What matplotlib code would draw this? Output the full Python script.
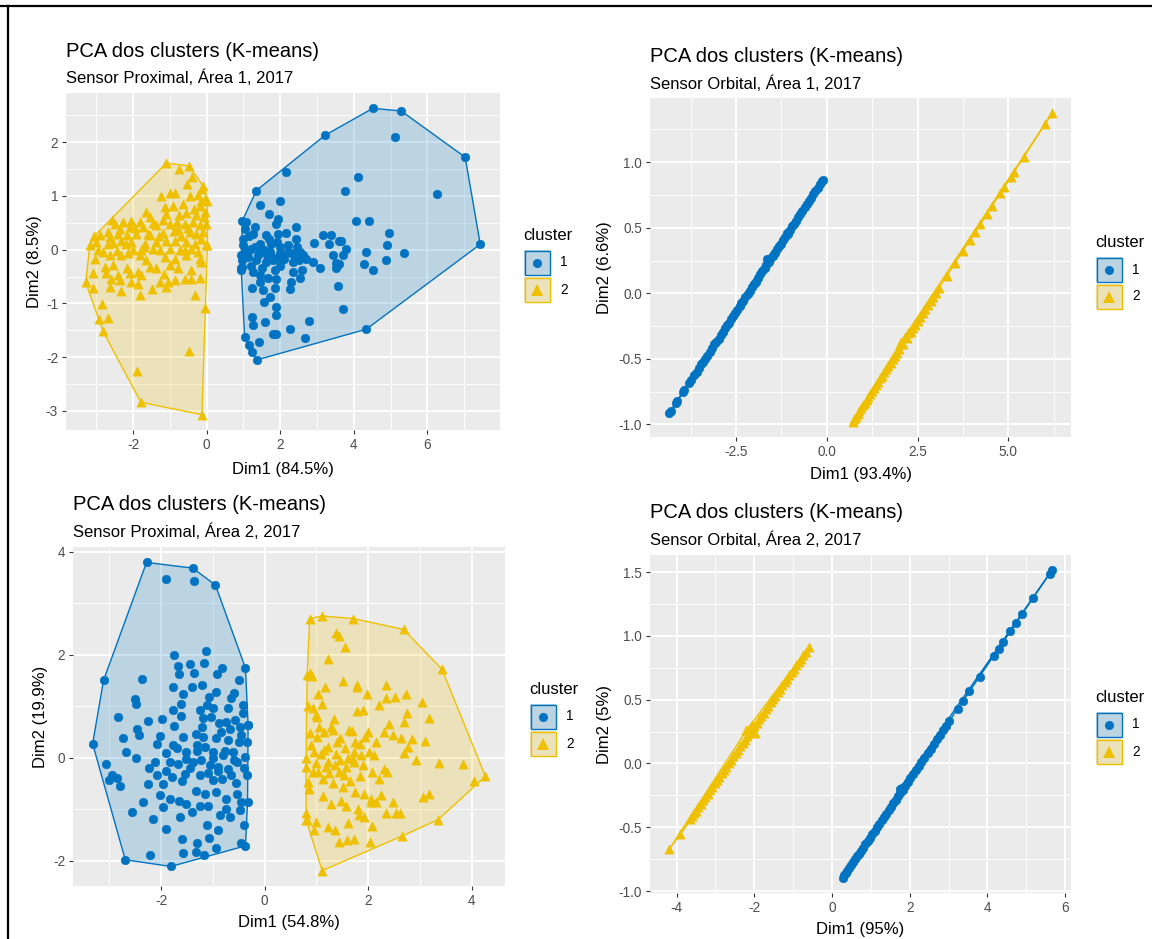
import matplotlib
matplotlib.use("Agg")
import matplotlib.pyplot as plt
from matplotlib.patches import Polygon, Rectangle
from matplotlib.lines import Line2D

plt.rcParams['font.family'] = ['Liberation Sans', 'DejaVu Sans']
plt.rcParams['axes.unicode_minus'] = False

# ---------------- data ----------------
titles = ["PCA dos clusters (K-means)"] * 4
subtitles = ["Sensor Proximal, Área 1, 2017", "Sensor Orbital, Área 1, 2017",
             "Sensor Proximal, Área 2, 2017", "Sensor Orbital, Área 2, 2017"]
xlabels = ["Dim1 (84.5%)", "Dim1 (93.4%)", "Dim1 (54.8%)", "Dim1 (95%)"]
ylabels = ["Dim2 (8.5%)", "Dim2 (6.6%)", "Dim2 (19.9%)", "Dim2 (5%)"]
cluster_labels = ["1", "2"]

p1_c1 = [(4.52, 2.63), (5.29, 2.58), (7.03, 1.72), (7.44, 0.10), (4.34, -1.48), (1.37, -2.05), (1.23, -1.91),
         (1.15, -1.78), (1.03, -1.62), (0.94, -0.38), (0.97, 0.54), (1.35, 1.10), (2.15, 1.45), (3.22, 2.13),
         (5.11, 2.10), (4.11, 1.35), (3.75, 1.09), (6.27, 1.03), (1.98, 0.91), (1.44, 0.84), (1.69, 0.67),
         (1.94, 0.57), (1.89, 0.48), (4.07, 0.53), (4.41, 0.53), (1.30, 0.42), (2.42, 0.42), (1.08, 0.51),
         (1.03, 0.39), (1.62, 0.28), (1.94, 0.30), (2.15, 0.31), (4.95, 0.31), (3.16, 0.27), (3.39, 0.27),
         (3.60, 0.17), (3.66, 0.17), (2.44, 0.20), (1.91, 0.14), (1.44, 0.11), (2.21, 0.08), (2.93, 0.12),
         (3.32, 0.11), (4.91, 0.08), (0.99, 0.08), (1.21, 0.02), (1.49, -0.04), (1.73, -0.04), (1.98, -0.07),
         (2.30, -0.07), (2.62, -0.10), (3.80, 0.02), (4.32, -0.04), (5.36, -0.07), (3.43, -0.10), (3.70, -0.10),
         (4.88, -0.19), (1.12, -0.14), (1.35, -0.20), (1.60, -0.23), (1.80, -0.20), (2.09, -0.17), (2.35, -0.22),
         (2.71, -0.17), (2.89, -0.23), (3.07, -0.35), (3.52, -0.24), (3.61, -0.26), (4.29, -0.26), (4.52, -0.38),
         (3.51, -0.35), (0.97, -0.32), (1.26, -0.41), (1.44, -0.48), (1.67, -0.52), (1.85, -0.38), (2.35, -0.41),
         (2.60, -0.38), (1.44, -0.60), (1.89, -0.54), (2.30, -0.60), (2.53, -0.52), (1.24, -0.72), (1.53, -0.75),
         (1.85, -0.72), (2.26, -0.74), (1.71, -0.88), (1.57, -0.97), (1.88, -1.07), (3.70, -1.11), (3.58, -0.67),
         (1.24, -1.25), (1.89, -1.22), (1.58, -1.35), (1.26, -1.40), (2.26, -1.48), (2.77, -1.33), (1.80, -1.56),
         (1.89, -1.56), (2.66, -1.65), (1.41, -1.71), (0.94, -0.10), (0.94, -0.35),
         (1.00, 0.20), (1.10, -0.05), (1.15, 0.25), (1.30, 0.05), (1.40, -0.10), (1.55, 0.00), (1.65, -0.10),
         (1.75, 0.10), (1.85, -0.15), (2.00, 0.05), (2.05, -0.20), (2.20, -0.05), (2.40, -0.12), (2.50, -0.20),
         (1.20, -0.30), (1.50, -0.35), (2.00, -0.30), (2.45, 0.05), (2.55, -0.05), (1.05, 0.00), (0.96, -0.20),
         (1.70, 0.20), (1.25, 0.30)]

p1_c2 = [(-1.10, 1.61), (-0.48, 1.56), (-0.10, 1.19), (0.02, 0.91), (0.02, 0.08), (-0.04, -1.09), (-0.13, -3.07),
         (-1.79, -2.84), (-2.82, -1.52), (-3.29, -0.61), (-3.18, 0.08), (-3.06, 0.25), (-2.57, 0.56),
         (-0.75, 1.50), (-0.53, 1.23), (-0.12, 1.13), (-1.23, 0.99), (-1.01, 1.06), (-0.46, 0.99), (-0.24, 1.01),
         (-0.91, 0.82), (-1.14, 0.79), (-0.64, 0.85), (-0.19, 0.82), (-1.64, 0.70), (-1.10, 0.67), (-0.55, 0.69),
         (-0.28, 0.64), (-0.07, 0.60), (-1.55, 0.60), (-2.05, 0.54), (-1.82, 0.51), (-2.27, 0.51), (-2.50, 0.48),
         (-2.68, 0.33), (-2.36, 0.39), (-2.09, 0.42), (-1.73, 0.42), (-1.37, 0.45), (-1.01, 0.48), (-0.82, 0.51),
         (-0.60, 0.48), (-0.37, 0.51), (-0.19, 0.45), (-0.01, 0.48), (-2.91, 0.27), (-2.64, 0.23), (-2.18, 0.27),
         (-1.91, 0.30), (-1.55, 0.27), (-1.19, 0.31), (-0.78, 0.39), (-0.46, 0.33), (-0.10, 0.33), (-3.00, 0.14),
         (-2.68, 0.11), (-2.32, 0.17), (-2.05, 0.14), (-1.68, 0.11), (-1.37, 0.14), (-1.10, 0.17), (-0.87, 0.17),
         (-0.55, 0.14), (-0.33, 0.11), (-0.01, 0.08), (-2.82, -0.04), (-2.45, -0.02), (-2.14, -0.07), (-1.78, -0.01),
         (-1.46, 0.02), (-1.28, -0.01), (-1.01, 0.01), (-0.73, -0.01), (-0.42, 0.02), (-2.95, -0.01), (-3.04, -0.17),
         (-2.64, -0.10), (-2.32, -0.10), (-1.82, -0.10), (-1.64, -0.20), (-1.37, -0.35), (-1.14, -0.14), (-0.87, -0.17),
         (-0.55, -0.10), (-0.19, -0.17), (-0.16, -0.23), (-2.77, -0.32), (-2.55, -0.29), (-2.18, -0.35), (-1.87, -0.41),
         (-1.55, -0.32), (-1.01, -0.29), (-0.78, -0.35), (-0.42, -0.38), (-3.09, -0.44), (-2.73, -0.44), (-2.41, -0.48),
         (-2.09, -0.44), (-1.78, -0.48), (-1.28, -0.60), (-1.05, -0.60), (-0.87, -0.57), (-0.60, -0.55), (-0.42, -0.54),
         (-0.19, -0.52), (-2.36, -0.57), (-2.05, -0.60), (-1.87, -0.63), (-3.09, -0.72), (-2.64, -0.69), (-2.32, -0.77),
         (-1.82, -0.85), (-1.50, -0.73), (-1.10, -0.69), (-0.33, -0.85), (-2.86, -1.02), (-2.68, -1.28), (-2.93, -1.29),
         (-0.48, -1.88), (-1.89, -2.25),
         (-2.40, 0.30), (-2.20, 0.10), (-1.95, 0.40), (-1.60, 0.30), (-1.45, 0.50), (-1.20, 0.55), (-0.90, 0.35),
         (-0.70, 0.25), (-0.50, 0.40), (-0.30, 0.30), (-0.15, 0.20), (-0.05, 0.70), (-0.35, 0.75), (-0.75, 0.65),
         (-1.30, 0.25), (-1.70, 0.05), (-2.00, 0.00), (-2.55, 0.12), (-0.60, 0.00), (-0.25, -0.05), (-1.15, -0.45),
         (-2.60, -0.55), (-0.05, 0.95), (-0.15, 0.90), (-0.85, 1.05), (-0.40, 1.35)]

p2_c1 = [(-4.34, -0.915), (-4.30, -0.90), (-4.15, -0.835), (-4.12, -0.82), (-3.95, -0.75), (-3.92, -0.74),
         (-3.78, -0.68), (-3.74, -0.66), (-3.65, -0.625), (-3.58, -0.60), (-3.52, -0.57), (-3.45, -0.54),
         (-3.40, -0.52), (-3.35, -0.50), (-3.30, -0.475), (-3.22, -0.445), (-3.15, -0.415), (-3.10, -0.39),
         (-3.05, -0.37), (-2.98, -0.345), (-2.92, -0.315), (-2.87, -0.295), (-2.80, -0.265), (-2.74, -0.245),
         (-2.70, -0.225), (-2.63, -0.195), (-2.58, -0.17), (-2.52, -0.15), (-2.47, -0.13), (-2.40, -0.10),
         (-2.35, -0.075), (-2.30, -0.055), (-2.24, -0.03), (-2.18, -0.005), (-2.12, 0.02), (-2.06, 0.045),
         (-2.00, 0.07), (-1.95, 0.09), (-1.88, 0.12), (-1.83, 0.145), (-1.77, 0.17), (-1.71, 0.19),
         (-1.66, 0.215), (-1.65, 0.264), (-1.60, 0.24), (-1.55, 0.26), (-1.49, 0.285), (-1.43, 0.31),
         (-1.37, 0.335), (-1.31, 0.36), (-1.26, 0.38), (-1.20, 0.41), (-1.14, 0.43), (-1.10, 0.46),
         (-1.08, 0.455), (-1.02, 0.485), (-0.96, 0.51), (-0.91, 0.53), (-0.85, 0.555), (-0.79, 0.58),
         (-0.73, 0.605), (-0.67, 0.63), (-0.61, 0.655), (-0.55, 0.68), (-0.49, 0.705), (-0.43, 0.73),
         (-0.37, 0.755), (-0.31, 0.78), (-0.25, 0.805), (-0.19, 0.83), (-0.14, 0.855), (-0.11, 0.866)]

p2_c2 = [(0.71, -0.978), (0.75, -0.96), (0.80, -0.94), (0.85, -0.918), (0.90, -0.897), (0.95, -0.875),
         (1.00, -0.854), (1.05, -0.833), (1.10, -0.811), (1.15, -0.79), (1.20, -0.768), (1.26, -0.743),
         (1.31, -0.721), (1.37, -0.696), (1.42, -0.674), (1.48, -0.649), (1.53, -0.627), (1.59, -0.602),
         (1.64, -0.58), (1.70, -0.554), (1.76, -0.529), (1.82, -0.503), (1.88, -0.477), (1.94, -0.452),
         (2.00, -0.426), (2.02, -0.39), (2.05, -0.37), (2.10, -0.383), (2.15, -0.33), (2.20, -0.34),
         (2.25, -0.30), (2.31, -0.293), (2.37, -0.268), (2.43, -0.242), (2.50, -0.212), (2.57, -0.182),
         (2.64, -0.152), (2.71, -0.122), (2.78, -0.092), (2.86, -0.058), (2.93, -0.028), (3.00, 0.002),
         (3.09, 0.041), (3.31, 0.135), (3.54, 0.233), (3.75, 0.323), (3.95, 0.409), (4.09, 0.469),
         (4.23, 0.528), (4.41, 0.605), (4.55, 0.665), (4.78, 0.764), (4.89, 0.811), (5.07, 0.888),
         (5.15, 0.922), (5.42, 1.038), (6.02, 1.295), (6.20, 1.372)]

p3_c1 = [(-2.28, 3.79), (-1.39, 3.68), (-0.95, 3.35), (-0.37, 1.74), (-0.32, 0.63), (-0.33, -0.86), (-0.37, -1.71),
         (-0.45, -1.66), (-1.81, -2.11), (-2.69, -1.98), (-3.32, 0.27), (-3.11, 1.50),
         (-1.91, 3.46), (-1.37, 3.43), (-1.74, 2.00), (-1.14, 2.07), (-1.67, 1.78), (-1.44, 1.81), (-1.17, 1.83),
         (-0.83, 1.75), (-1.65, 1.63), (-1.37, 1.65), (-0.92, 1.63), (-2.37, 1.52), (-0.49, 1.50), (-1.76, 1.37),
         (-1.40, 1.37), (-1.21, 1.41), (-1.57, 1.23), (-0.93, 1.28), (-0.42, 1.02), (-2.51, 1.13), (-2.48, 1.05),
         (-1.62, 1.05), (-1.07, 1.18), (-0.64, 1.15), (-1.25, 0.92), (-1.12, 1.02), (-0.99, 0.97), (-0.71, 0.97),
         (-2.83, 0.80), (-2.25, 0.72), (-1.99, 0.75), (-1.76, 0.93), (-1.62, 0.81), (-1.74, 0.62), (-1.19, 0.77),
         (-1.03, 0.79), (-0.88, 0.67), (-0.74, 0.69), (-0.58, 0.73), (-0.42, 0.86), (-2.47, 0.56), (-2.42, 0.45),
         (-2.74, 0.39), (-2.02, 0.42), (-1.57, 0.40), (-1.33, 0.47), (-1.19, 0.40), (-0.93, 0.38), (-0.67, 0.56),
         (-0.48, 0.60), (-0.32, 0.64), (-2.68, 0.12), (-2.48, 0.00), (-2.08, 0.27), (-1.90, 0.10), (-1.76, 0.24),
         (-1.70, 0.18), (-1.51, 0.11), (-1.31, 0.14), (-1.15, 0.21), (-0.99, 0.11), (-0.77, 0.14), (-0.61, 0.11),
         (-0.38, 0.01), (-3.06, -0.13), (-2.23, -0.20), (-2.12, -0.08), (-1.83, -0.08), (-1.67, -0.12), (-1.51, -0.02),
         (-1.38, -0.08), (-1.22, -0.05), (-1.06, -0.15), (-0.90, -0.18), (-0.71, -0.21), (-0.54, -0.08), (-2.95, -0.34),
         (-3.01, -0.44), (-2.85, -0.39), (-2.80, -0.54), (-2.26, -0.51), (-2.08, -0.34), (-1.96, -0.51), (-1.79, -0.38),
         (-1.54, -0.31), (-1.25, -0.34), (-0.99, -0.44), (-0.83, -0.41), (-0.64, -0.34), (-0.35, -0.34), (-2.02, -0.73),
         (-1.83, -0.80), (-1.65, -0.84), (-1.51, -0.89), (-1.33, -0.64), (-1.15, -0.70), (-0.93, -0.67), (-0.74, -0.80),
         (-0.54, -0.70), (-0.45, -0.86), (-2.34, -0.85), (-2.56, -1.06), (-2.15, -1.19), (-1.97, -0.96), (-1.63, -1.15),
         (-1.41, -1.06), (-1.25, -0.93), (-1.09, -0.93), (-0.87, -1.11), (-0.66, -1.15), (-0.48, -1.02), (-1.91, -1.38),
         (-1.60, -1.58), (-1.31, -1.66), (-1.12, -1.30), (-0.90, -1.41), (-1.58, -1.85), (-1.17, -1.89), (-0.94, -1.76),
         (-2.21, -1.89), (-1.33, -1.82), (-1.07, -1.56),
         (-1.00, 0.00), (-0.80, 0.05), (-0.60, -0.05), (-0.50, 0.30), (-0.45, 0.45), (-0.70, 0.35), (-0.90, -0.25),
         (-1.10, -0.30), (-1.30, 0.25), (-1.45, -0.20), (-0.55, -0.50), (-0.40, -0.20), (-1.20, 0.60), (-0.35, 0.30),
         (-0.85, 0.50), (-1.60, -0.45), (-1.90, -0.25), (-0.60, 1.25), (-0.75, -1.00), (-0.40, -1.30)]

p3_c2 = [(0.87, 2.70), (1.11, 2.75), (1.71, 2.70), (2.68, 2.49), (3.42, 1.72), (4.26, -0.36), (3.35, -1.20),
         (2.65, -1.52), (1.11, -2.19), (0.80, -1.21), (0.82, 1.60),
         (1.37, 2.42), (1.43, 2.36), (1.55, 2.15), (1.22, 1.91), (0.88, 1.65), (0.91, 1.59), (1.52, 1.49),
         (1.79, 1.42), (1.78, 1.38), (2.34, 1.42), (1.16, 1.37), (1.97, 1.24), (2.72, 1.23), (1.03, 1.24),
         (2.35, 1.15), (2.52, 1.18), (2.20, 1.02), (1.11, 1.04), (0.83, 1.00), (0.94, 0.97), (1.90, 0.92),
         (1.78, 0.90), (2.75, 0.87), (3.04, 1.08), (3.17, 0.77), (0.99, 0.82), (1.01, 0.79), (1.33, 0.76),
         (1.29, 0.60), (1.62, 0.54), (1.68, 0.52), (2.40, 0.65), (2.69, 0.69), (2.31, 0.50), (2.47, 0.45),
         (0.88, 0.48), (1.01, 0.40), (1.15, 0.50), (1.31, 0.53), (1.46, 0.39), (1.84, 0.26), (1.94, 0.40),
         (2.15, 0.30), (2.63, 0.38), (2.85, 0.37), (3.10, 0.32), (2.76, 0.21), (0.90, 0.24), (0.96, 0.11),
         (1.09, 0.08), (1.22, 0.21), (1.38, 0.08), (1.55, 0.18), (1.73, 0.11), (1.70, -0.02), (1.86, 0.05),
         (2.02, 0.11), (2.12, 0.06), (2.68, 0.10), (2.93, -0.04), (3.37, -0.10), (3.83, -0.12), (4.04, -0.45),
         (0.80, -0.01), (0.80, -0.18), (0.93, -0.28), (1.03, -0.27), (1.19, -0.18), (1.22, -0.08), (1.35, -0.15),
         (1.44, -0.28), (1.57, -0.18), (1.72, -0.08), (1.89, -0.15), (2.08, -0.28), (2.31, -0.21), (2.37, -0.28),
         (2.21, -0.41), (0.83, -0.47), (1.13, -0.41), (1.31, -0.49), (1.51, -0.57), (1.54, -0.34), (1.75, -0.67),
         (1.92, -0.70), (2.05, -0.80), (2.24, -0.73), (2.47, -0.86), (3.06, -0.76), (3.17, -0.70), (1.12, -0.75),
         (1.28, -0.89), (1.47, -0.83), (1.57, -0.94), (1.81, -0.99), (2.05, -0.86), (2.15, -0.85), (2.53, -1.08),
         (2.61, -1.08), (2.34, -1.08), (0.80, -1.08), (0.81, -1.20), (0.99, -1.24), (1.22, -1.35), (1.35, -1.41),
         (1.60, -1.26), (1.83, -1.12), (1.91, -1.15), (2.08, -1.32), (0.95, -1.41), (1.43, -1.63), (1.58, -1.59),
         (1.73, -1.58), (2.04, -1.64),
         (1.00, -0.10), (1.15, 0.15), (1.25, -0.30), (1.40, 0.30), (1.60, 0.00), (1.75, 0.30), (1.85, -0.35),
         (1.45, -0.05), (1.05, 0.60), (0.85, -0.60), (2.00, 0.50), (1.65, -0.45)]

p4_c1 = [(0.28, -0.895), (0.32, -0.877), (0.36, -0.859), (0.40, -0.841), (0.45, -0.819), (0.50, -0.796),
         (0.55, -0.774), (0.60, -0.751), (0.65, -0.729), (0.70, -0.707), (0.75, -0.684), (0.80, -0.662),
         (0.86, -0.635), (0.92, -0.608), (0.98, -0.581), (1.04, -0.554), (1.10, -0.528), (1.16, -0.501),
         (1.22, -0.474), (1.28, -0.447), (1.34, -0.420), (1.40, -0.393), (1.46, -0.367), (1.52, -0.340),
         (1.58, -0.313), (1.64, -0.286), (1.70, -0.259), (1.74, -0.20), (1.76, -0.232), (1.80, -0.19),
         (1.82, -0.205), (1.88, -0.179), (1.95, -0.147), (2.02, -0.116), (2.09, -0.084), (2.16, -0.053),
         (2.23, -0.022), (2.30, 0.009), (2.38, 0.045), (2.46, 0.081), (2.54, 0.117), (2.62, 0.153),
         (2.70, 0.189), (2.78, 0.224), (2.86, 0.260), (2.94, 0.296), (3.02, 0.332), (3.24, 0.430),
         (3.37, 0.488), (3.54, 0.565), (3.80, 0.681), (4.16, 0.842), (4.29, 0.900), (4.40, 0.949),
         (4.59, 1.034), (4.74, 1.102), (4.89, 1.169), (5.18, 1.299), (5.60, 1.487), (5.66, 1.513)]

p4_c2 = [(-4.19, -0.673), (-3.92, -0.554), (-3.66, -0.439), (-3.60, -0.413), (-3.55, -0.391), (-3.50, -0.369),
         (-3.44, -0.342), (-3.38, -0.316), (-3.32, -0.289), (-3.26, -0.263), (-3.20, -0.236), (-3.14, -0.210),
         (-3.08, -0.183), (-3.02, -0.157), (-2.96, -0.130), (-2.90, -0.104), (-2.84, -0.077), (-2.78, -0.051),
         (-2.72, -0.025), (-2.66, 0.002), (-2.60, 0.028), (-2.54, 0.055), (-2.48, 0.081), (-2.42, 0.108),
         (-2.36, 0.134), (-2.30, 0.161), (-2.24, 0.187), (-2.20, 0.26), (-2.18, 0.214), (-2.12, 0.240),
         (-2.06, 0.267), (-2.05, 0.30), (-2.00, 0.293), (-1.99, 0.24), (-1.94, 0.319), (-1.88, 0.346),
         (-1.82, 0.372), (-1.76, 0.399), (-1.70, 0.425), (-1.64, 0.452), (-1.58, 0.478), (-1.52, 0.505),
         (-1.46, 0.531), (-1.40, 0.558), (-1.34, 0.584), (-1.28, 0.611), (-1.22, 0.637), (-1.16, 0.663),
         (-1.10, 0.690), (-1.04, 0.716), (-0.98, 0.743), (-0.92, 0.769), (-0.86, 0.796), (-0.80, 0.822),
         (-0.74, 0.849), (-0.68, 0.875), (-0.60, 0.910)]

# ticks
p1_xt = [-2, 0, 2, 4, 6]; p1_xm = [-3, -1, 1, 3, 5, 7]
p1_yt = [-3, -2, -1, 0, 1, 2]; p1_ym = [-2.5, -1.5, -0.5, 0.5, 1.5, 2.5]
p2_xt = [-2.5, 0.0, 2.5, 5.0]; p2_xm = [-3.75, -1.25, 1.25, 3.75, 6.25]
p2_yt = [-1.0, -0.5, 0.0, 0.5, 1.0]; p2_ym = [-0.75, -0.25, 0.25, 0.75, 1.25]
p3_xt = [-2, 0, 2, 4]; p3_xm = [-3, -1, 1, 3]
p3_yt = [-2, 0, 2, 4]; p3_ym = [-1, 1, 3]
p4_xt = [-4, -2, 0, 2, 4, 6]; p4_xm = [-3, -1, 1, 3, 5]
p4_yt = [-1.0, -0.5, 0.0, 0.5, 1.0, 1.5]; p4_ym = [-0.75, -0.25, 0.25, 0.75, 1.25]

# ---------------- drawing ----------------
W, H = 1152, 939
BLUE = '#0073C2'
YELLOW = '#EFC000'
PANEL_BG = '#EBEBEB'

fig = plt.figure(figsize=(W / 100, H / 100), dpi=100)
fig.patch.set_facecolor('white')


def fx(x):
    return x / W


def fy(y):
    return 1 - y / H


def hull(points):
    pts = sorted(set(points))
    if len(pts) < 3:
        return pts

    def cross(o, a, b):
        return (a[0] - o[0]) * (b[1] - o[1]) - (a[1] - o[1]) * (b[0] - o[0])
    lower = []
    for p in pts:
        while len(lower) >= 2 and cross(lower[-2], lower[-1], p) <= 0:
            lower.pop()
        lower.append(p)
    upper = []
    for p in reversed(pts):
        while len(upper) >= 2 and cross(upper[-2], upper[-1], p) <= 0:
            upper.pop()
        upper.append(p)
    return lower[:-1] + upper[:-1]


def fmt_list(vals, dec):
    if dec == 0:
        return ["%d" % v for v in vals]
    return [("%." + str(dec) + "f") % v for v in vals]


def panel(rect, c1, c2, xt, xm, yt, ym, xdec, ydec):
    l, t, r, b = rect
    ax = fig.add_axes([fx(l), fy(b), (r - l) / W, (b - t) / H])
    ax.set_facecolor(PANEL_BG)
    for pts, col, mk, s in [(c1, BLUE, 'o', 38), (c2, YELLOW, '^', 44)]:
        h = hull(pts)
        ax.add_patch(Polygon(h, closed=True, facecolor=col, alpha=0.2, edgecolor='none', zorder=2))
        ax.add_patch(Polygon(h, closed=True, facecolor='none', edgecolor=col, lw=1.0, zorder=3))
        ax.scatter([p[0] for p in pts], [p[1] for p in pts], s=s, marker=mk,
                   color=col, edgecolors=col, linewidths=0.4, zorder=4)
    ax.margins(0.05)
    ax.set_xticks(xt)
    ax.set_xticklabels(fmt_list(xt, xdec))
    ax.set_xticks(xm, minor=True)
    ax.set_yticks(yt)
    ax.set_yticklabels(fmt_list(yt, ydec))
    ax.set_yticks(ym, minor=True)
    ax.grid(which='major', color='white', lw=1.3, zorder=0)
    ax.grid(which='minor', color='white', lw=0.6, zorder=0)
    ax.set_axisbelow(True)
    for sp in ax.spines.values():
        sp.set_visible(False)
    ax.tick_params(which='major', length=3.2, width=0.8, color='#333333',
                   labelsize=9.8, labelcolor='#4D4D4D', pad=2.5)
    ax.tick_params(which='minor', length=0)
    return ax


rects = [(66, 93, 500, 430), (650, 98, 1071, 437), (73, 547, 505, 886), (650, 555, 1071, 893)]
datasets = [(p1_c1, p1_c2), (p2_c1, p2_c2), (p3_c1, p3_c2), (p4_c1, p4_c2)]
ticks = [(p1_xt, p1_xm, p1_yt, p1_ym, 0, 0), (p2_xt, p2_xm, p2_yt, p2_ym, 1, 1),
         (p3_xt, p3_xm, p3_yt, p3_ym, 0, 0), (p4_xt, p4_xm, p4_yt, p4_ym, 0, 1)]
title_pos = [(66, 57, 83), (650, 62, 89), (73, 510, 537), (650, 518, 545)]
xlab_y = [474, 479, 927, 934]
ylab_x = [35, 605, 40, 605]
legend_pos = [(523, 240, 250), (1095, 247, 257), (529, 694, 704), (1095, 702, 712)]

for i in range(4):
    c1, c2 = datasets[i]
    xt, xm, yt, ym, xd, yd = ticks[i]
    ax = panel(rects[i], c1, c2, xt, xm, yt, ym, xd, yd)
    l, t, r, b = rects[i]
    tx, ty, sy = title_pos[i]
    fig.text(fx(tx), fy(ty), titles[i], fontsize=14.5, color='black', ha='left', va='baseline')
    fig.text(fx(tx), fy(sy), subtitles[i], fontsize=12, color='black', ha='left', va='baseline')
    fig.text(fx((l + r) / 2), fy(xlab_y[i]), xlabels[i], fontsize=12, color='black',
             ha='center', va='baseline')
    fig.text(fx(ylab_x[i]), fy((t + b) / 2), ylabels[i], fontsize=12, color='black',
             ha='center', va='center', rotation=90)
    # legend
    lx, lty, by = legend_pos[i]
    fig.text(fx(lx), fy(lty), "cluster", fontsize=12, color='black', ha='left', va='baseline')
    for k, (col, mk, ms) in enumerate([(BLUE, 'o', 6.5), (YELLOW, '^', 8)]):
        y0 = by + k * 27
        bx = lx + 1
        fig.add_artist(Rectangle((fx(bx), fy(y0 + 25)), 26 / W, 25 / H, transform=fig.transFigure,
                                 facecolor=PANEL_BG, edgecolor='none'))
        fig.add_artist(Rectangle((fx(bx), fy(y0 + 25)), 26 / W, 25 / H, transform=fig.transFigure,
                                 facecolor=col, alpha=0.2, edgecolor='none'))
        fig.add_artist(Rectangle((fx(bx + 0.5), fy(y0 + 24.5)), 25 / W, 24 / H, transform=fig.transFigure,
                                 facecolor='none', edgecolor=col, lw=1.0))
        fig.add_artist(Line2D([fx(bx + 13)], [fy(y0 + 12.5)], transform=fig.transFigure,
                              marker=mk, markersize=ms, color=col, markeredgewidth=0))
        fig.text(fx(bx + 36), fy(y0 + 12.5), cluster_labels[k], fontsize=9.8, color='black',
                 ha='left', va='center')

# outer frame lines (top and left)
fig.add_artist(Line2D([0, 1], [fy(6), fy(6)], transform=fig.transFigure, color='black', lw=1.6))
fig.add_artist(Line2D([fx(8), fx(8)], [fy(6), 0], transform=fig.transFigure, color='black', lw=1.6))

fig.savefig("out.png", dpi=100, facecolor='white')
